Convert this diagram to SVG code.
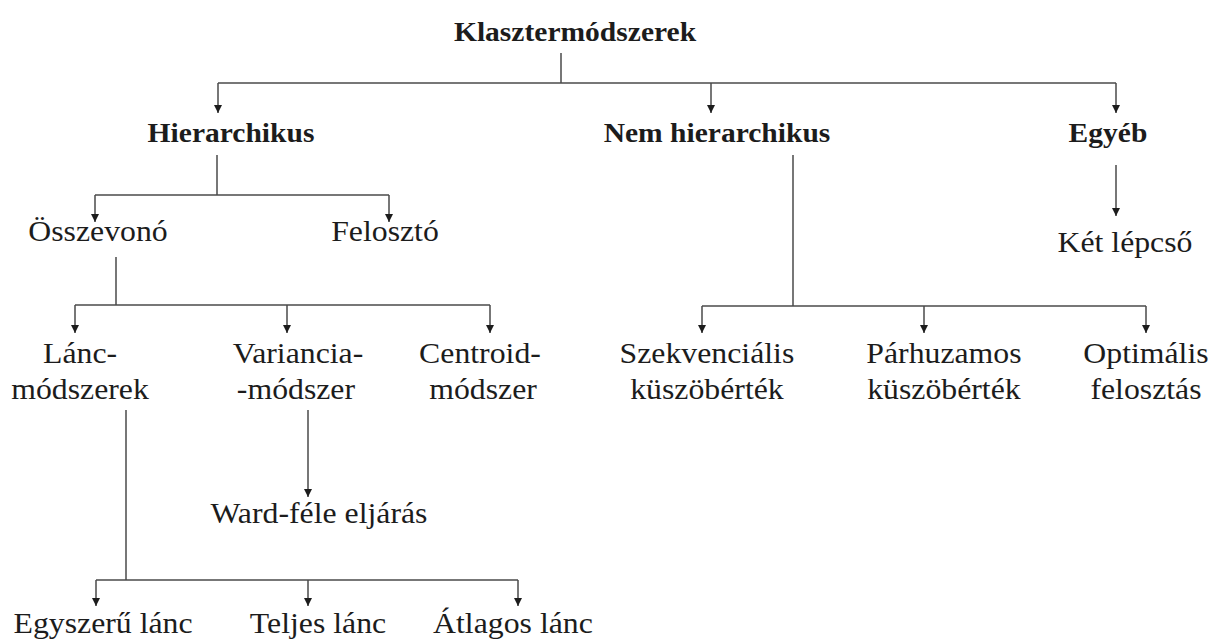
<svg xmlns="http://www.w3.org/2000/svg" width="1218" height="642" viewBox="0 0 1218 642">
<style>
text{font-family:"Liberation Serif","Times New Roman",serif;fill:#1c1c1c;text-anchor:middle;font-size:29.7px}
.b{font-weight:bold;font-size:27.6px}
.c line{stroke:#4a4a4a;stroke-width:1.5;fill:none}
.c line.a{marker-end:url(#ah)}
</style>
<defs>
<marker id="ah" viewBox="0 0 10 10" refX="10" refY="5" markerWidth="9" markerHeight="8" markerUnits="userSpaceOnUse" orient="auto">
<path d="M0,0 L10,5 L0,10 z" fill="#1c1c1c"/>
</marker>
</defs>
<rect width="1218" height="642" fill="#ffffff"/>
<g id="connectors" class="c">
<line x1="561" y1="53" x2="561" y2="83"/>
<line x1="218" y1="83" x2="1116" y2="83"/>
<line class="a" x1="218" y1="83" x2="218" y2="113"/>
<line class="a" x1="711" y1="83" x2="711" y2="113"/>
<line class="a" x1="1116" y1="83" x2="1116" y2="113"/>
<line x1="217" y1="155" x2="217" y2="195"/>
<line x1="95" y1="195" x2="389" y2="195"/>
<line class="a" x1="95" y1="195" x2="95" y2="222"/>
<line class="a" x1="389" y1="195" x2="389" y2="222"/>
<line x1="116" y1="257" x2="116" y2="305"/>
<line x1="75" y1="305" x2="490" y2="305"/>
<line class="a" x1="75" y1="305" x2="75" y2="333"/>
<line class="a" x1="287" y1="305" x2="287" y2="333"/>
<line class="a" x1="490" y1="305" x2="490" y2="333"/>
<line x1="793" y1="155" x2="793" y2="306"/>
<line x1="702" y1="306" x2="1146" y2="306"/>
<line class="a" x1="702" y1="306" x2="702" y2="333"/>
<line class="a" x1="924" y1="306" x2="924" y2="333"/>
<line class="a" x1="1146" y1="306" x2="1146" y2="333"/>
<line class="a" x1="1116" y1="165" x2="1116" y2="216"/>
<line class="a" x1="308" y1="410" x2="308" y2="497"/>
<line x1="126" y1="410" x2="126" y2="580"/>
<line x1="96" y1="580" x2="518" y2="580"/>
<line class="a" x1="96" y1="580" x2="96" y2="606"/>
<line class="a" x1="308" y1="580" x2="308" y2="606"/>
<line class="a" x1="518" y1="580" x2="518" y2="606"/>
</g>
<g id="n-klasztermodszerek" transform="scale(1.07,1)"><text class="b" x="537.4" y="41">Klasztermódszerek</text></g>
<g id="n-hierarchikus" transform="scale(1.07,1)"><text class="b" x="215.9" y="142">Hierarchikus</text></g>
<g id="n-nem-hierarchikus" transform="scale(1.07,1)"><text class="b" x="670.1" y="142">Nem hierarchikus</text></g>
<g id="n-egyeb" transform="scale(1.07,1)"><text class="b" x="1035.5" y="142">Egyéb</text></g>
<g id="n-osszevono" transform="scale(1.07,1)"><text x="91.6" y="241">Összevonó</text></g>
<g id="n-feloszto" transform="scale(1.07,1)"><text x="359.8" y="241">Felosztó</text></g>
<g id="n-ket-lepcso" transform="scale(1.07,1)"><text x="1051.4" y="252">Két lépcső</text></g>
<g id="n-lanc-modszerek" transform="scale(1.07,1)"><text x="74.8" y="363">Lánc-</text><text x="74.8" y="399">módszerek</text></g>
<g id="n-variancia" transform="scale(1.07,1)"><text x="278.5" y="363">Variancia-</text><text x="276.6" y="399">-módszer</text></g>
<g id="n-centroid" transform="scale(1.07,1)"><text x="448.6" y="363">Centroid-</text><text x="451.4" y="399">módszer</text></g>
<g id="n-ward" transform="scale(1.07,1)"><text x="298.1" y="523">Ward-féle eljárás</text></g>
<g id="n-egyszeru" transform="scale(1.07,1)"><text x="96.3" y="633">Egyszerű lánc</text></g>
<g id="n-teljes" transform="scale(1.07,1)"><text x="297.2" y="633">Teljes lánc</text></g>
<g id="n-atlagos" transform="scale(1.07,1)"><text x="479.4" y="633">Átlagos lánc</text></g>
<g id="n-szekvencialis" transform="scale(1.07,1)"><text x="660.7" y="363">Szekvenciális</text><text x="660.7" y="399">küszöbérték</text></g>
<g id="n-parhuzamos" transform="scale(1.07,1)"><text x="882.2" y="363">Párhuzamos</text><text x="882.2" y="399">küszöbérték</text></g>
<g id="n-optimalis" transform="scale(1.07,1)"><text x="1071" y="363">Optimális</text><text x="1071" y="399">felosztás</text></g>
</svg>
